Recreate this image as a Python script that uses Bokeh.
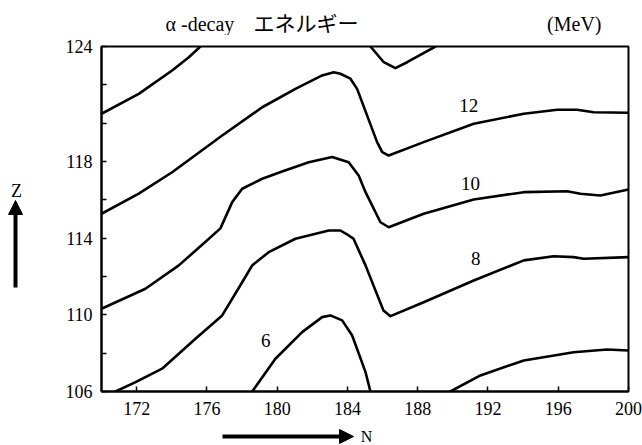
from bokeh.plotting import figure
from bokeh.models import Range1d, FixedTicker, Label, Arrow, NormalHead
from bokeh.layouts import column, row
from bokeh.core.properties import value
from bokeh.embed import file_html
from bokeh.resources import INLINE

# ---------------- data (N, Z) ----------------
# 14 MeV contour (upper-left piece)
n_14a = [170.0, 172.12, 174.02, 174.97, 175.63]
z_14a = [120.49, 121.53, 122.75, 123.44, 124.0]
# 14 MeV contour (small dip at the top near N=186)
n_14b = [185.31, 186.07, 186.73, 187.40, 189.01]
z_14b = [124.0, 123.18, 122.87, 123.18, 124.0]
# 12 MeV contour
n_12 = [170.0, 172.12, 174.02, 176.87, 179.15, 181.04, 182.56, 183.22, 183.60,
        184.17, 184.55, 185.69, 185.98, 186.35, 188.34, 191.19, 194.04, 195.94,
        197.07, 198.02, 200.0]
z_12 = [115.27, 116.32, 117.44, 119.36, 120.83, 121.79, 122.49, 122.66, 122.58,
        122.32, 121.79, 119.01, 118.49, 118.31, 119.01, 119.97, 120.49, 120.70,
        120.70, 120.57, 120.54]
# 10 MeV contour
n_10 = [170.0, 172.50, 174.40, 175.92, 176.77, 177.44, 178.01, 179.15, 180.28,
        181.80, 183.13, 184.07, 184.64, 185.03, 185.88, 186.35, 188.34, 191.19,
        194.04, 196.51, 197.26, 198.40, 200.0]
z_10 = [110.32, 111.36, 112.58, 113.81, 114.51, 115.88, 116.58, 117.10, 117.48,
        117.96, 118.23, 117.96, 117.27, 116.40, 114.83, 114.57, 115.27, 116.02,
        116.40, 116.45, 116.32, 116.23, 116.54]
# 8 MeV contour
n_8 = [170.80, 171.94, 173.45, 175.35, 176.87, 178.01, 178.58, 179.52, 181.04,
       182.94, 183.60, 184.07, 184.34, 185.03, 186.05, 186.45, 188.34, 191.19,
       194.04, 195.74, 196.88, 197.45, 200.0]
z_8 = [106.0, 106.49, 107.19, 108.75, 109.97, 111.70, 112.58, 113.27, 113.97,
       114.40, 114.40, 114.14, 113.98, 112.58, 110.23, 109.93, 110.66, 111.79,
       112.84, 113.06, 113.01, 112.93, 113.01]
# 6 MeV contour (bump near N=183)
n_6a = [178.58, 179.90, 181.42, 182.56, 183.03, 183.70, 184.27, 185.03, 185.31]
z_6a = [106.0, 107.71, 109.10, 109.88, 109.97, 109.71, 108.92, 107.01, 106.0]
# 6 MeV contour (lower right)
n_6b = [189.86, 191.57, 194.04, 196.88, 198.78, 200.0]
z_6b = [106.0, 106.84, 107.62, 108.05, 108.19, 108.14]

# contour labels
lab_text = ["12", "10", "8", "6"]
lab_n = [190.9, 191.0, 191.3, 179.35]
lab_z = [120.92, 116.85, 112.94, 108.66]

x_ticks = [172, 176, 180, 184, 188, 192, 196, 200]
y_major = [106, 110, 114, 118, 124]
y_minor = [108, 112, 116, 120, 122]

title_left = "\u03b1 -decay"
title_jp = "エネルギー"
title_unit = "(MeV)"

SERIF = "Liberation Serif"
SERIF_CJK = "Liberation Serif, Noto Sans CJK JP"

# ---------------- layout (page pixels) ----------------
TOP_H, BOT_H, LEFT_W = 35, 20, 40
PAGE_W, PAGE_H = 642, 445
MID_H = PAGE_H - TOP_H - BOT_H
MAIN_W = PAGE_W - LEFT_W
FL, FR, FT, FB = 101, 628, 46, 391      # frame edges on the page


def blank(w, h, y_top, y_bottom):
    # strip without axes; ranges are in page pixels (y grows downwards)
    f = figure(width=w, height=h, output_backend="svg",
               toolbar_location=None,
               x_range=Range1d(0, w), y_range=Range1d(y_bottom, y_top),
               x_axis_type=None, y_axis_type=None,
               min_border_left=0, min_border_right=0,
               min_border_top=0, min_border_bottom=0)
    f.title.visible = False
    f.outline_line_color = None
    f.background_fill_color = "white"
    f.border_fill_color = "white"
    return f


# title strip (page y 0..TOP_H)
top = blank(PAGE_W, TOP_H, 0, TOP_H)
top.text(x=[165], y=[23], text=[title_left], text_font=value(SERIF),
         text_font_size=value("20px"), text_align="left",
         text_baseline="middle", text_color="black")
top.text(x=[253], y=[23], text=[title_jp], text_font=value(SERIF_CJK),
         text_font_size=value("21px"), text_align="left",
         text_baseline="middle", text_color="black")
top.text(x=[601], y=[23], text=[title_unit], text_font=value(SERIF),
         text_font_size=value("20px"), text_align="right",
         text_baseline="middle", text_color="black")

# left strip: its frame is aligned with the main frame (page y FT..FB)
left = blank(LEFT_W, MID_H, FT, FB)
left.text(x=[16], y=[190], text=["Z"], text_font=value(SERIF),
          text_font_size=value("18px"), text_align="center",
          text_baseline="middle", text_color="black")
left.add_layout(Arrow(x_start=15, y_start=287, x_end=15, y_end=200,
                      line_width=4, line_color="black",
                      end=NormalHead(size=14, fill_color="black",
                                     line_color="black", line_width=1)))

# bottom strip (page y PAGE_H-BOT_H .. PAGE_H)
bottom = blank(PAGE_W, BOT_H, PAGE_H - BOT_H, PAGE_H)
bottom.add_layout(Arrow(x_start=222, y_start=436, x_end=353, y_end=436,
                        line_width=4, line_color="black",
                        end=NormalHead(size=14, fill_color="black",
                                       line_color="black", line_width=1)))
bottom.text(x=[366], y=[435.5], text=["N"], text_font=value(SERIF),
            text_font_size=value("16px"), text_align="center",
            text_baseline="middle", text_color="black")

# main chart
p = figure(width=MAIN_W, height=MID_H, output_backend="svg",
           toolbar_location=None,
           x_range=Range1d(170, 200), y_range=Range1d(106, 124),
           min_border_left=FL - LEFT_W, min_border_right=PAGE_W - FR,
           min_border_top=FT - TOP_H, min_border_bottom=TOP_H + MID_H - FB)
p.title.visible = False
p.background_fill_color = "white"
p.border_fill_color = "white"
p.grid.visible = False
p.outline_line_color = "black"
p.outline_line_width = 2

for ax in (p.xaxis, p.yaxis):
    ax.axis_line_width = 2
    ax.axis_line_color = "black"
    ax.major_tick_in = 5
    ax.major_tick_out = 0
    ax.minor_tick_in = 5
    ax.minor_tick_out = 0
    ax.major_tick_line_width = 1.5
    ax.minor_tick_line_width = 1.5
    ax.major_label_text_font = SERIF
    ax.major_label_text_font_size = "18px"
    ax.major_label_text_color = "black"

p.xaxis.ticker = FixedTicker(ticks=x_ticks)
p.xaxis.major_label_standoff = 10
p.yaxis.ticker = FixedTicker(ticks=y_major, minor_ticks=y_minor)
p.yaxis.major_label_standoff = 9

for xs, ys in [(n_14a, z_14a), (n_14b, z_14b), (n_12, z_12), (n_10, z_10),
               (n_8, z_8), (n_6a, z_6a), (n_6b, z_6b)]:
    p.line(xs, ys, line_color="black", line_width=2.6, line_join="round",
           line_cap="round")

for t, xn, yz in zip(lab_text, lab_n, lab_z):
    p.add_layout(Label(x=xn, y=yz, text=t, text_font=SERIF,
                       text_font_size="19px", text_align="center",
                       text_baseline="middle", text_color="black"))

layout = column(top, row(left, p), bottom)
open("out.html", "w").write(file_html(layout, INLINE))
